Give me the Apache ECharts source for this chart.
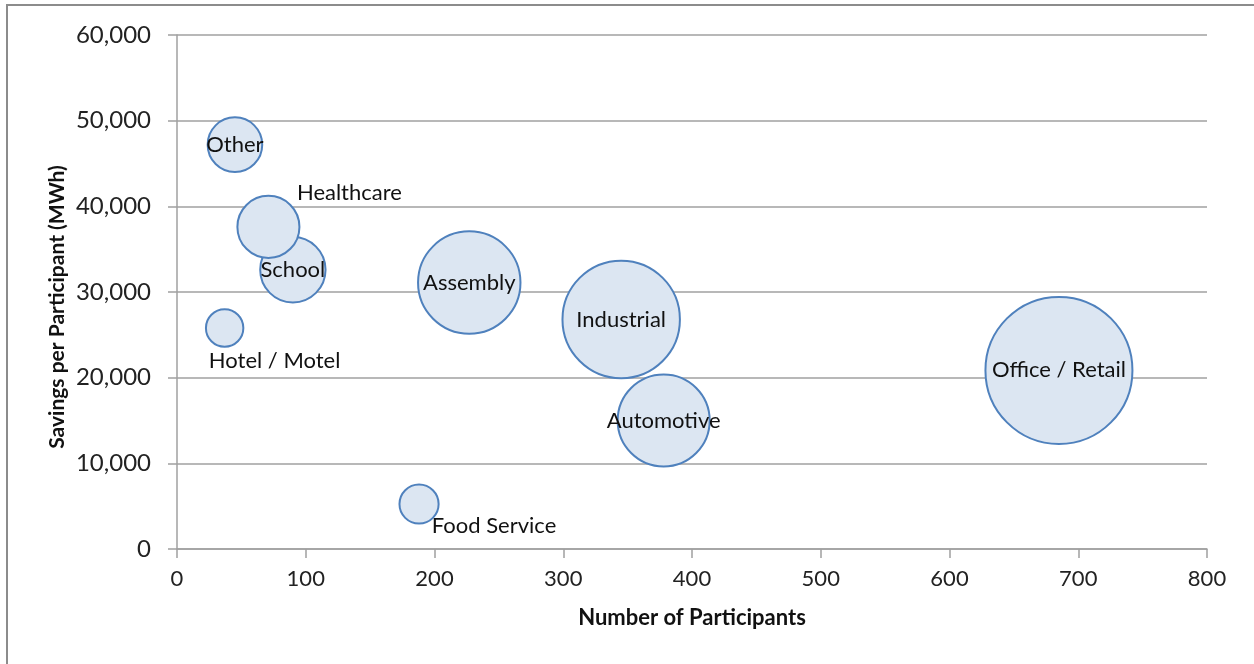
<!DOCTYPE html>
<html>
<head>
<meta charset="utf-8">
<script src="https://cdn.jsdelivr.net/npm/echarts@6/dist/echarts.min.js"></script>
<style>
html,body{margin:0;padding:0;background:#fff;}
#chart{width:1254px;height:664px;}
</style>
</head>
<body>
<div id="chart"></div>
<script>
// Data (drawing order: larger bubbles first)
const categories = ['Office / Retail','Industrial','Assembly','Automotive','School','Healthcare','Other','Food Service','Hotel / Motel'];
const participants = [685, 345, 227, 378, 90, 71, 45, 188, 37];
const savingsPerParticipant = [20850, 26800, 31100, 15000, 32600, 37600, 47200, 5250, 25800];
// Bubble size: total savings (MWh)
const totalSavings = [14290000, 9180000, 7020000, 5690000, 2920000, 2640000, 2060000, 1090000, 1000000];
const xTicks = [0, 100, 200, 300, 400, 500, 600, 700, 800];
const yTicks = [0, 10000, 20000, 30000, 40000, 50000, 60000];

const labelOffsets = {
  'Healthcare': [81, -34],
  'Hotel / Motel': [50, 33],
  'Food Service': [75, 22]
};

const maxSize = Math.max(...totalSavings);
const FONT = 'Lato';

const data = categories.map((c, i) => {
  const item = { name: c, value: [participants[i], savingsPerParticipant[i], totalSavings[i]] };
  if (labelOffsets[c]) item.label = { offset: labelOffsets[c] };
  return item;
});

const chart = echarts.init(document.getElementById('chart'), null, { renderer: 'canvas' });
chart.setOption({
  animation: false,
  backgroundColor: '#fff',
  grid: { left: 177, right: 47, top: 35, bottom: 115 },
  graphic: [
    { type: 'rect', shape: { x: 7, y: 5, width: 1260, height: 680 }, style: { fill: 'none', stroke: '#8c8c8c', lineWidth: 2 }, silent: true, z: -1 },
    { type: 'text', x: 57, y: 307, rotation: Math.PI / 2, style: { text: 'Savings per Participant (MWh)', font: 'bold 21px ' + FONT, fill: '#111', align: 'center', verticalAlign: 'middle' } }
  ],
  xAxis: {
    type: 'value', min: xTicks[0], max: xTicks[xTicks.length - 1], interval: 100,
    name: 'Number of Participants', nameLocation: 'middle', nameGap: 58,
    nameTextStyle: { fontFamily: FONT, fontWeight: 'bold', fontSize: 22, color: '#111' },
    axisLine: { show: true, lineStyle: { color: '#a0a0a0', width: 1.5 } },
    axisTick: { show: true, inside: false, length: 9, lineStyle: { color: '#a0a0a0', width: 1.5 } },
    axisLabel: { fontFamily: FONT, fontSize: 22, color: '#222', margin: 19 },
    splitLine: { show: false }
  },
  yAxis: {
    type: 'value', min: yTicks[0], max: yTicks[yTicks.length - 1], interval: 10000,
    axisLine: { show: true, lineStyle: { color: '#a0a0a0', width: 1.5 } },
    axisTick: { show: true, inside: false, length: 9, lineStyle: { color: '#a0a0a0', width: 1.5 } },
    axisLabel: { fontFamily: FONT, fontSize: 24, color: '#222', margin: 26,
      formatter: v => v.toLocaleString('en-US') },
    splitLine: { show: true, lineStyle: { color: '#a0a0a0', width: 1.5 } }
  },
  series: [{
    type: 'scatter',
    data: data,
    symbol: 'circle',
    symbolSize: v => 149 * Math.sqrt(v[2] / maxSize) - 2,
    itemStyle: { color: '#dce6f2', borderColor: '#4f81bd', borderWidth: 2, opacity: 1 },
    label: {
      show: true, position: 'inside', formatter: p => p.name,
      fontFamily: FONT, fontSize: 22, color: '#111'
    },
    emphasis: { disabled: true }
  }]
});
</script>
</body>
</html>
